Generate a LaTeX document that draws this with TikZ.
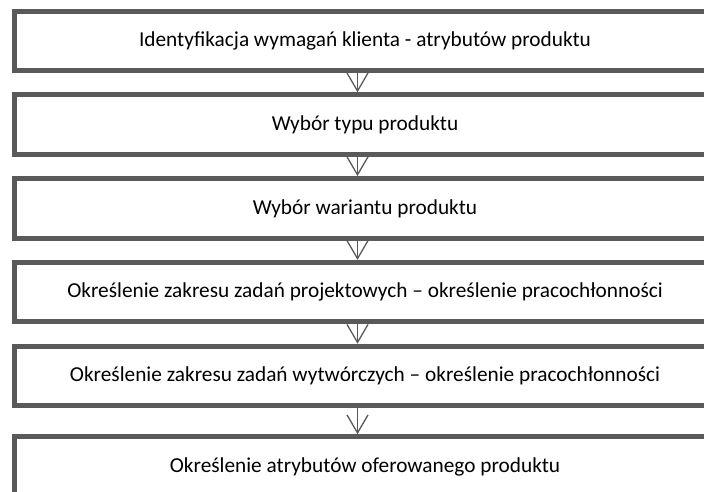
\documentclass[tikz,border=0pt]{standalone}
\usepackage{fontspec}
\setmainfont{Carlito}
\usetikzlibrary{arrows.meta,positioning}
\definecolor{ramka}{HTML}{5A5A5A}

\begin{document}
\begin{tikzpicture}[
  x=1pt,y=1pt,
  node distance=24.3pt,
  krok/.style={draw=ramka,line width=5pt,outer sep=0pt,minimum width=701pt,minimum height=59.5pt,font=\fontsize{21.3}{25}\selectfont},
  arr/.style={draw=ramka,line width=1.3pt,shorten <=2.5pt,shorten >=2.5pt,-{Straight Barb[length=18pt,width=21pt,line width=1.3pt]}}
]
\useasboundingbox (0,0) rectangle (704,-491);
\clip (0,0) rectangle (704,-491);

\node[krok] at (365,-40.75) (k1) {Identyfikacja wymagań klienta - atrybutów produktu};
\node[krok,below=of k1] (k2) {Wybór typu produktu};
\node[krok,below=of k2] (k3) {Wybór wariantu produktu};
\node[krok,below=of k3] (k4) {Określenie zakresu zadań projektowych – określenie pracochłonności};
\node[krok,below=of k4] (k5) {Określenie zakresu zadań wytwórczych – określenie pracochłonności};
\node[krok,below=31pt of k5] (k6) {Określenie atrybutów oferowanego produktu};

\draw[arr] ([xshift=-7.5pt]k1.south) -- ([xshift=-7.5pt]k2.north);
\draw[arr] ([xshift=-7.5pt]k2.south) -- ([xshift=-7.5pt]k3.north);
\draw[arr] ([xshift=-7.5pt]k3.south) -- ([xshift=-7.5pt]k4.north);
\draw[arr] ([xshift=-7.5pt]k4.south) -- ([xshift=-7.5pt]k5.north);
\draw[arr] ([xshift=-7.5pt]k5.south) -- ([xshift=-7.5pt]k6.north);
\end{tikzpicture}
\end{document}
